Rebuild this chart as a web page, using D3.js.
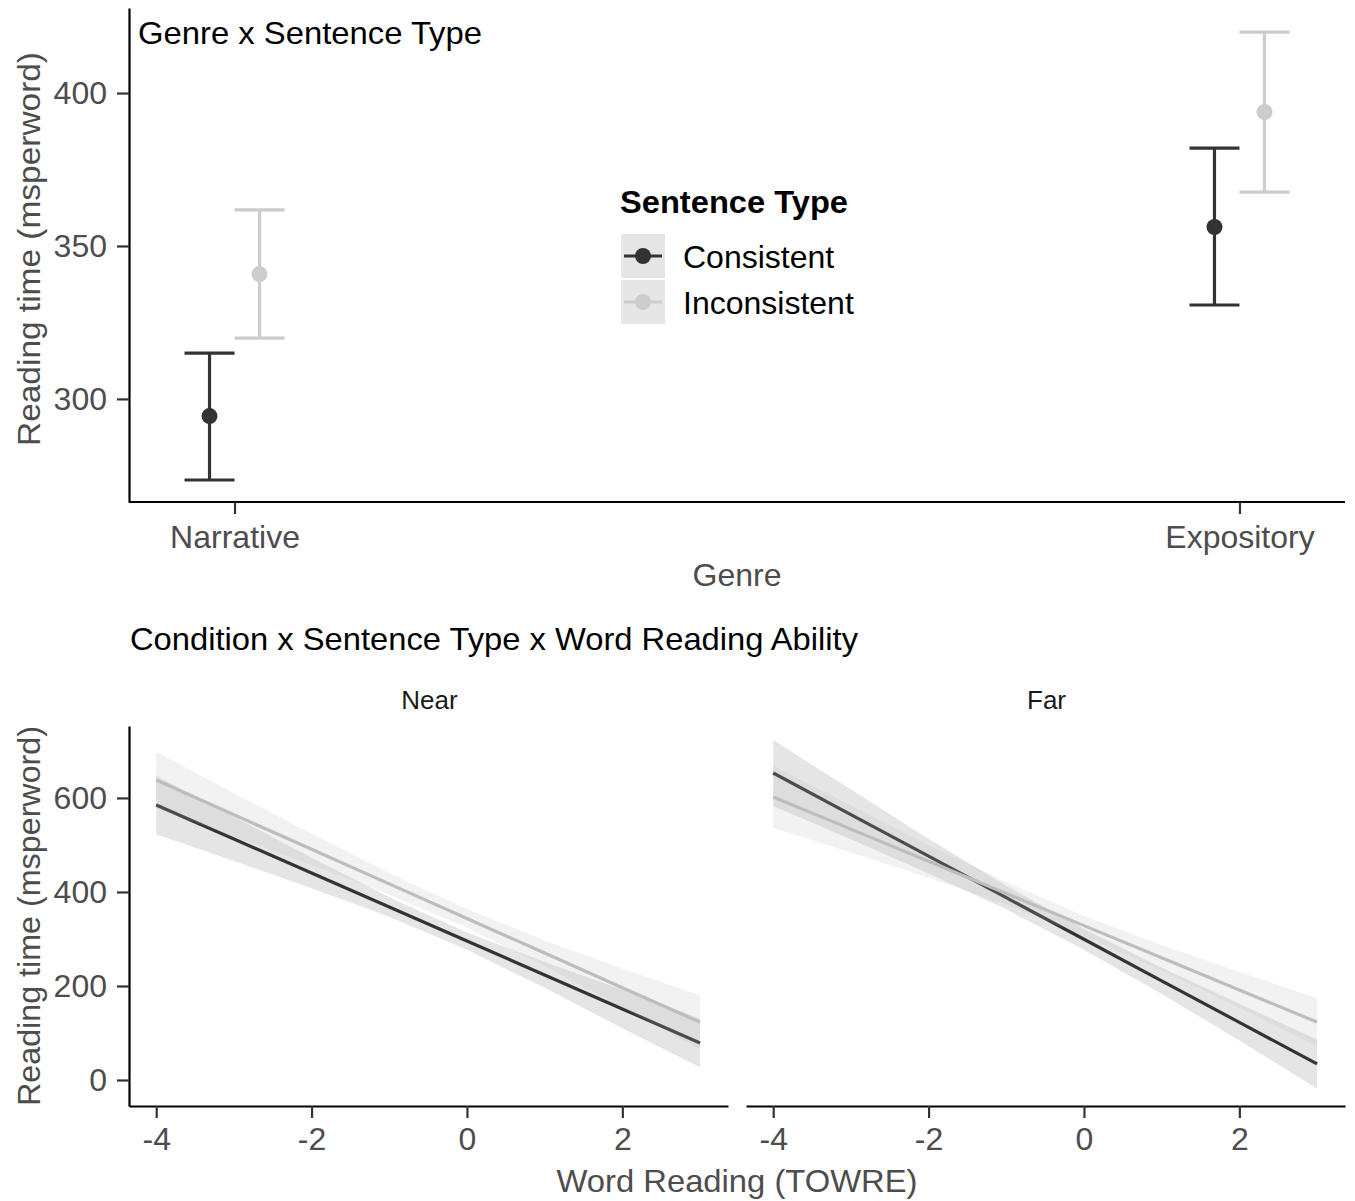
<!DOCTYPE html>
<html><head><meta charset="utf-8">
<script src="https://cdn.jsdelivr.net/npm/d3@7"></script>
<style>
body{margin:0;background:#fff;}
text{font-family:"Liberation Sans",Arial,Helvetica,sans-serif;}
</style>
</head><body>
<svg id="c" width="1355" height="1201"></svg>
<script>
// ---------- Data: top panel (Genre x Sentence Type) ----------
const genres = ["Narrative", "Expository"];
const sentenceTypes = ["Consistent", "Inconsistent"];
const consistentMean  = [294.4, 356.2];
const consistentLower = [273.5, 330.7];
const consistentUpper = [315.0, 382.0];
const inconsistentMean  = [340.8, 393.8];
const inconsistentLower = [319.9, 367.6];
const inconsistentUpper = [361.8, 419.9];
const topYTicks = [300, 350, 400];

// ---------- Data: bottom panels (Condition x Sentence Type x TOWRE) ----------
const conditions = ["Near", "Far"];
const towre = [-4, -3, -2, -1, 0, 1, 2, 3];
const nearConsFit = [585, 512.7, 440.4, 368.1, 295.8, 223.5, 151.2, 78.9];
const nearConsLo  = [523, 466, 408, 347, 277, 196, 110, 27];
const nearConsHi  = [647, 560, 473, 389, 314, 251, 192, 131];
const nearIncFit  = [638, 564.4, 490.8, 417.2, 343.6, 270, 196.4, 123];
const nearIncLo   = [578, 518, 458, 394, 324, 243, 155, 66];
const nearIncHi   = [698, 610, 524, 440, 364, 297, 237, 180];
const farConsFit  = [653, 564.6, 476.2, 387.8, 299.4, 211, 122.6, 34.2];
const farConsLo   = [583, 512, 439, 363, 277, 183, 84, -18];
const farConsHi   = [723, 618, 513, 413, 321, 239, 162, 86];
const farIncFit   = [602, 533.6, 465.2, 396.8, 328.4, 260, 191.6, 123.2];
const farIncLo    = [536, 484, 430, 373, 307, 233, 154, 72];
const farIncHi    = [668, 584, 500, 421, 349, 287, 230, 174];
const bottomYTicks = [0, 200, 400, 600];
const bottomXTicks = [-4, -2, 0, 2];

// ---------- Styling ----------
const DARK = "#333333", LIGHT = "#cccccc", LIGHT_LINE = "#bdbdbd";
const TICKCOL = "#4d4d4d";
const FS = "32px";
const colorOf = {Consistent: DARK, Inconsistent: LIGHT};

const svg = d3.select("#c");

function styleAxis(g) {
  g.select(".domain").attr("stroke", "#000").attr("stroke-width", 2.2);
  g.selectAll(".tick line").attr("stroke", "#333").attr("stroke-width", 2.2);
  g.selectAll(".tick text").attr("fill", TICKCOL).style("font-size", FS)
    .style("font-family", '"Liberation Sans",Arial,sans-serif');
}

// ================= TOP PANEL =================
const tL = 129, tR = 1345, tT = 8, tB = 502;
const yTop = d3.scaleLinear().domain([266.3, 427.8]).range([tB, tT]);
const xTop = d3.scalePoint().domain(genres).range([tL, tR]).padding(0.105);
const dodge = {Consistent: -25, Inconsistent: 25};

const topSeries = [
  {type: "Consistent", mean: consistentMean, lo: consistentLower, hi: consistentUpper},
  {type: "Inconsistent", mean: inconsistentMean, lo: inconsistentLower, hi: inconsistentUpper}
];

const gTop = svg.append("g");
topSeries.forEach(s => {
  const col = colorOf[s.type];
  genres.forEach((g, i) => {
    const cx = xTop(g) + dodge[s.type];
    gTop.append("line").attr("x1", cx).attr("x2", cx)
      .attr("y1", yTop(s.lo[i])).attr("y2", yTop(s.hi[i]))
      .attr("stroke", col).attr("stroke-width", 3.2);
    [s.lo[i], s.hi[i]].forEach(v => {
      gTop.append("line").attr("x1", cx - 25).attr("x2", cx + 25)
        .attr("y1", yTop(v)).attr("y2", yTop(v))
        .attr("stroke", col).attr("stroke-width", 3.2);
    });
  });
});
topSeries.forEach(s => {
  genres.forEach((g, i) => {
    gTop.append("circle").attr("cx", xTop(g) + dodge[s.type]).attr("cy", yTop(s.mean[i]))
      .attr("r", 8).attr("fill", colorOf[s.type]);
  });
});

const axYTop = svg.append("g").attr("transform", `translate(${tL},0)`)
  .call(d3.axisLeft(yTop).tickValues(topYTicks).tickSize(12).tickSizeOuter(0).tickPadding(10));
styleAxis(axYTop);
const axXTop = svg.append("g").attr("transform", `translate(0,${tB})`)
  .call(d3.axisBottom(xTop).tickSize(12).tickSizeOuter(0).tickPadding(11));
styleAxis(axXTop);
axXTop.select(".domain").attr("d", `M${tL},0H${tR}`);

svg.append("text").attr("x", 138).attr("y", 44).text("Genre x Sentence Type")
  .style("font-size", FS).attr("fill", "#000")
  .attr("textLength", 344).attr("lengthAdjust", "spacingAndGlyphs");
svg.append("text").attr("transform", `translate(40,${(tT + tB) / 2 - 6}) rotate(-90)`)
  .attr("text-anchor", "middle").text("Reading time (msperword)")
  .style("font-size", FS).attr("fill", TICKCOL)
  .attr("textLength", 394).attr("lengthAdjust", "spacingAndGlyphs");
svg.append("text").attr("x", 737).attr("y", 586).attr("text-anchor", "middle")
  .text("Genre").style("font-size", FS).attr("fill", TICKCOL);

// legend
const lg = svg.append("g");
lg.append("text").attr("x", 620).attr("y", 213).text("Sentence Type")
  .style("font-size", "31px").style("font-weight", "bold").attr("fill", "#000")
  .attr("textLength", 228).attr("lengthAdjust", "spacingAndGlyphs");
sentenceTypes.forEach((t, i) => {
  const y0 = 234 + i * 46;
  lg.append("rect").attr("x", 621).attr("y", y0).attr("width", 44).attr("height", 44)
    .attr("fill", "#e6e6e6");
  lg.append("line").attr("x1", 624).attr("x2", 662).attr("y1", y0 + 22).attr("y2", y0 + 22)
    .attr("stroke", colorOf[t]).attr("stroke-width", 3.2);
  lg.append("circle").attr("cx", 643).attr("cy", y0 + 22).attr("r", 8).attr("fill", colorOf[t]);
  lg.append("text").attr("x", 683).attr("y", y0 + 34).text(t)
    .style("font-size", FS).attr("fill", "#000");
});

// ================= BOTTOM PANELS =================
svg.append("text").attr("x", 130).attr("y", 650)
  .text("Condition x Sentence Type x Word Reading Ability")
  .style("font-size", FS).attr("fill", "#000")
  .attr("textLength", 728).attr("lengthAdjust", "spacingAndGlyphs");

const bT = 726, bB = 1106;
const yBot = d3.scaleLinear().domain([-55.3, 753]).range([bB, bT]);
const panels = [
  {cond: conditions[0], x0: 129, x1: 728, showY: true,
   cons: {fit: nearConsFit, lo: nearConsLo, hi: nearConsHi},
   inc: {fit: nearIncFit, lo: nearIncLo, hi: nearIncHi}},
  {cond: conditions[1], x0: 746, x1: 1345, showY: false,
   cons: {fit: farConsFit, lo: farConsLo, hi: farConsHi},
   inc: {fit: farIncFit, lo: farIncLo, hi: farIncHi}}
];

panels.forEach(p => {
  const x = d3.scaleLinear().domain([-4.35, 3.36]).range([p.x0, p.x1]);
  const g = svg.append("g");
  const area = (s) => d3.area().x((d, i) => x(towre[i])).y0((d, i) => yBot(s.lo[i])).y1((d, i) => yBot(s.hi[i]))(towre);
  const line = (s) => d3.line().x((d, i) => x(towre[i])).y((d, i) => yBot(s.fit[i]))(towre);
  g.append("path").attr("d", area(p.cons)).attr("fill", DARK).attr("fill-opacity", 0.13);
  g.append("path").attr("d", line(p.cons)).attr("fill", "none").attr("stroke", DARK).attr("stroke-width", 3.2);
  g.append("path").attr("d", area(p.inc)).attr("fill", "#bbbbbb").attr("fill-opacity", 0.19);
  g.append("path").attr("d", line(p.inc)).attr("fill", "none").attr("stroke", LIGHT_LINE).attr("stroke-width", 3.2);

  const ax = svg.append("g").attr("transform", `translate(0,${bB})`)
    .call(d3.axisBottom(x).tickValues(bottomXTicks).tickFormat(d => String(d)).tickSize(12).tickSizeOuter(0).tickPadding(9));
  styleAxis(ax);
  if (p.showY) {
    const ay = svg.append("g").attr("transform", `translate(${p.x0},0)`)
      .call(d3.axisLeft(yBot).tickValues(bottomYTicks).tickSize(12).tickSizeOuter(0).tickPadding(10));
    styleAxis(ay);
  }
  svg.append("text").attr("x", (p.x0 + p.x1) / 2 + 1).attr("y", 709).attr("text-anchor", "middle")
    .text(p.cond).style("font-size", "26px").attr("fill", "#1a1a1a");
});

svg.append("text").attr("transform", `translate(40,${(bT + bB) / 2}) rotate(-90)`)
  .attr("text-anchor", "middle").text("Reading time (msperword)")
  .style("font-size", FS).attr("fill", TICKCOL)
  .attr("textLength", 380).attr("lengthAdjust", "spacingAndGlyphs");
svg.append("text").attr("x", 737).attr("y", 1192).attr("text-anchor", "middle")
  .text("Word Reading (TOWRE)").style("font-size", FS).attr("fill", TICKCOL)
  .attr("textLength", 361).attr("lengthAdjust", "spacingAndGlyphs");
</script>
</body></html>
